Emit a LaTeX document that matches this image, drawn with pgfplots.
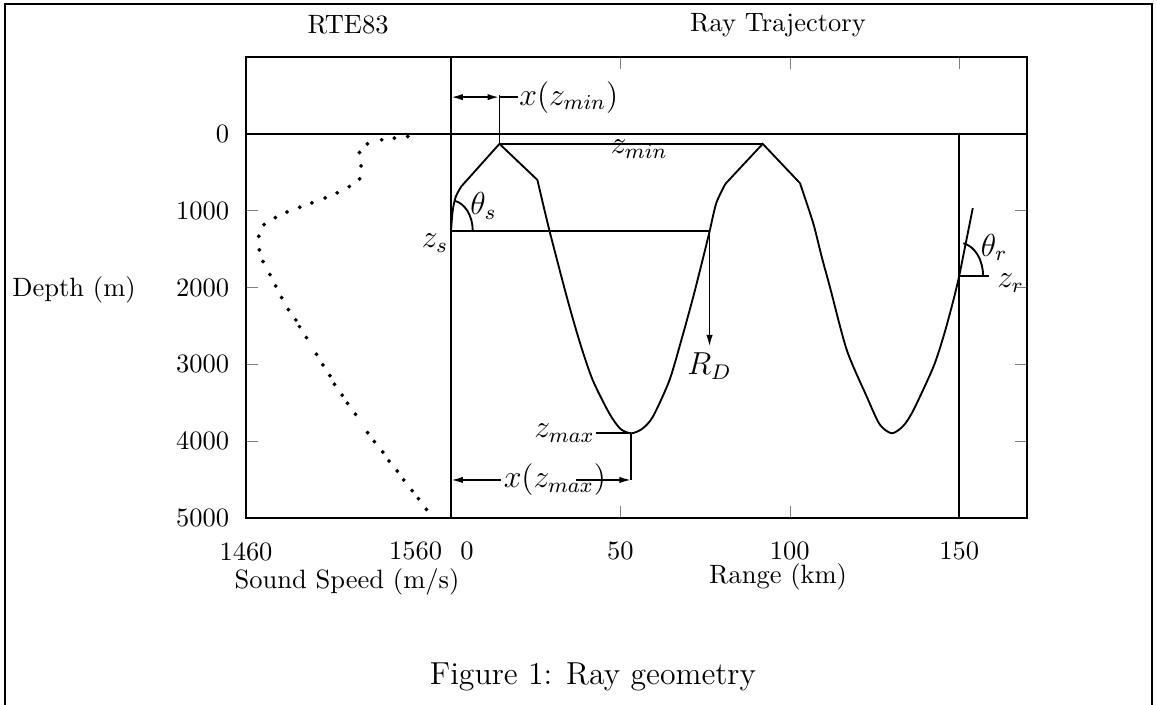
\documentclass[border=0pt]{standalone}
\usepackage{pgfplots}
\pgfplotsset{compat=1.18}
\usetikzlibrary{arrows.meta}
\begin{document}
\begin{tikzpicture}[>={Latex[length=4.5pt,width=2.4pt]}]
\pgfplotsset{
  every axis/.append style={line width=0.7pt},
  /pgf/number format/1000 sep={},
  scaled ticks=false,
}
% ---------------- left panel: sound speed profile ----------------
\begin{axis}[
  at={(92.84pt,-195.49pt)}, anchor=south west,
  scale only axis, width=77.37pt, height=173.98pt,
  xmin=1460, xmax=1560, ymin=-1000, ymax=5000, y dir=reverse,
  xtick={1460,1560},
  xticklabels={1460,{\makebox[0pt][r]{1560\hspace{3.4pt}}}},
  xtick style={draw=none},
  ytick={0,1000,2000,3000,4000,5000},
  ytick pos=left, tick align=inside, major tick length=4.5pt,
  xticklabel style={yshift=-5.5pt},
  yticklabel style={xshift=-2.7pt},
  clip=false,
]
\addplot[only marks, mark=*, mark size=0.3pt] coordinates {
(1538.9,35) (1532.4,56) (1526.2,78) (1519.2,130) (1515.4,243) (1516.1,417)
(1515.4,586) (1510.4,686) (1504.5,768) (1498.6,833) (1492.1,898) (1486.2,955)
(1480.0,1016) (1474.3,1090) (1468.8,1181) (1466.2,1332) (1466.5,1510)
(1468.3,1662) (1471.7,1832) (1474.5,1979) (1477.4,2131) (1480.7,2288)
(1484.3,2422) (1486.1,2509) (1489.5,2652) (1494.4,2869) (1497.5,3008)
(1500.9,3147) (1503.2,3259) (1506.9,3402) (1509.5,3507) (1513.4,3650)
(1519.3,3889) (1522.6,4006) (1526.7,4141) (1529.8,4258) (1533.8,4388)
(1536.9,4505) (1541.0,4644) (1544.1,4749) (1548.0,4887)
};
\draw (axis cs:1460,0) -- (axis cs:1560,0);
\node[anchor=north east, inner sep=0pt] at (axis cs:1559,1290) {\large $z_s$};
\end{axis}
% ---------------- right panel: ray trajectory ----------------
\begin{axis}[
  at={(170.21pt,-195.49pt)}, anchor=south west,
  scale only axis, width=217.38pt, height=173.98pt,
  xmin=0, xmax=170, ymin=-1000, ymax=5000, y dir=reverse,
  xtick={0,50,100,150},
  xticklabels={{\makebox[0pt][l]{\hspace{3.5pt}0}},50,100,150},
  ytick={1000,2000,3000,4000}, ytick pos=right, yticklabels={},
  tick align=inside, major tick length=4.5pt,
  xticklabel style={yshift=-5.5pt},
  clip=false,
]
% ray
\addplot[line width=0.7pt, smooth, tension=0.5] coordinates {(0,1263) (0.5,1000) (1.4,820) (3.0,686)};
\addplot[line width=0.7pt] coordinates {(3.0,686) (14.3,130) (25.5,600)};
\addplot[line width=0.7pt, smooth, tension=0.45] coordinates {
(25.5,600) (29.0,1250) (34.4,2160) (38.2,2740) (41.8,3203) (46.7,3637) (50.0,3840)
(53.2,3897) (56.4,3840) (59.6,3680) (64.5,3203) (68.2,2650) (71.5,2120)
(74.2,1650) (76.3,1272) (78.3,900) (81.0,650)};
\addplot[line width=0.7pt] coordinates {(81.0,650) (92.0,130) (103.0,642)};
\addplot[line width=0.7pt, smooth, tension=0.45] coordinates {
(103.0,642) (106.9,1163) (109.4,1600) (111.8,1988) (116.8,2813) (122.7,3420) (126.5,3780)
(130.1,3897) (133.5,3800) (136.5,3594) (142.4,3030) (145.6,2600) (148.3,2161) (150,1849)};
\addplot[line width=0.7pt] coordinates {(150,1849) (154.0,967)};
% surface line and receiver range
\draw (axis cs:0,0) -- (axis cs:170,0);
\draw (axis cs:150,0) -- (axis cs:150,5000);
% x(z_min)
\draw[<->] (axis cs:0,-478) -- (axis cs:14.3,-478);
\draw (axis cs:14.3,-478) -- (axis cs:19.8,-478);
\draw (axis cs:14.3,130) -- (axis cs:14.3,-510);
\node[anchor=west, inner sep=0pt] at (axis cs:19.9,-478) {\large $x(z_{min})$};
% z_min
\draw (axis cs:14.3,130) -- (axis cs:92,130);
\node[anchor=base west, inner sep=0pt] at (axis cs:46.8,262) {\large $z_{min}$};
% z_s and theta_s
\draw (axis cs:0,1263) -- (axis cs:76.3,1263);
\coordinate (S) at (axis cs:0,1263);
\node[inner sep=0pt] at (axis cs:9.6,938) {\large $\theta_s$};
% R_D
\draw[->] (axis cs:76.3,1263) -- (axis cs:76.3,2773);
\node[anchor=north, inner sep=1pt] at (axis cs:76.3,2800) {\large $R_D$};
% z_max and x(z_max)
\draw (axis cs:42.9,3897) -- (axis cs:53.2,3897);
\node[anchor=base east, inner sep=0pt] at (axis cs:42.7,3950) {\large $z_{max}$};
\draw (axis cs:53.2,3897) -- (axis cs:53.2,4505);
\draw[<-] (axis cs:0,4505) -- (axis cs:14.8,4505);
\draw[->] (axis cs:37.0,4505) -- (axis cs:53.2,4505);
\node[anchor=west, inner sep=0pt] at (axis cs:15.3,4505) {\large $x(z_{max})$};
% z_r and theta_r
\draw (axis cs:150,1849) -- (axis cs:158.9,1849);
\coordinate (R) at (axis cs:150,1849);
\node[inner sep=0pt] at (axis cs:160.3,1480) {\large $\theta_r$};
\node[anchor=base west, inner sep=0pt] at (axis cs:161.0,2000) {\large $z_r$};
\end{axis}
% angle arcs
\draw[line width=0.7pt] (S) ++(8.2pt,0) arc[start angle=0, end angle=82, x radius=8.2pt, y radius=11.5pt];
\draw[line width=0.7pt] (R) ++(9pt,0) arc[start angle=0, end angle=80, x radius=9pt, y radius=12.5pt];
% ---------------- titles, labels, frame ----------------
\node at (131.34pt,-9.5pt) {RTE83};
\node at (293.6pt,-9.5pt) {Ray Trajectory};
\node at (27.93pt,-109.45pt) {Depth (m)};
\node at (130.96pt,-219.65pt) {Sound Speed (m/s)};
\node at (293.62pt,-217.76pt) {Range (km)};
\node at (223.8pt,-255.5pt) {\large Figure 1: Ray geometry};
\draw[line width=0.8pt] (1.9pt,-266pt) -- (1.9pt,-1.5pt) -- (434.8pt,-1.5pt) -- (434.8pt,-266pt);
\pgfresetboundingbox
\useasboundingbox (0pt,0pt) rectangle (436.65pt,-265.69pt);
\end{tikzpicture}
\end{document}
